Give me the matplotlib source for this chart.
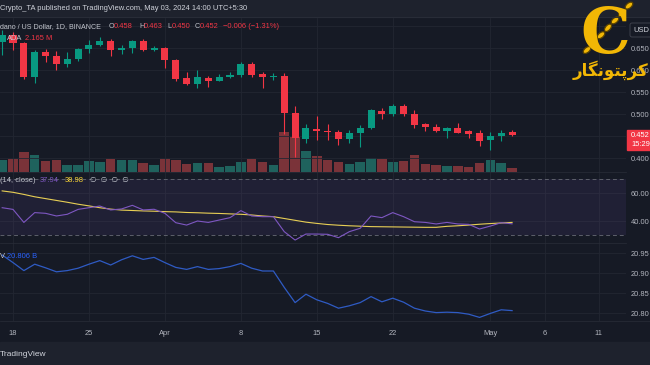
#
# ADA/USD daily chart (TradingView-style screenshot) with RSI and OBV panes
# Values
#
import matplotlib
matplotlib.use('Agg')
import matplotlib.pyplot as plt
import matplotlib.dates as mdates
import matplotlib.patches as patches
import numpy as np
import pandas as pd

plt.rcParams['font.family'] = ['Liberation Sans', 'DejaVu Sans']

# daily candles Mar 17 - May 3, 2024
dates = pd.date_range('2024-03-17', '2024-05-03', freq='D')
opens = [0.664, 0.680, 0.662, 0.585, 0.641, 0.632, 0.614, 0.624, 0.648, 0.657,
         0.666, 0.645, 0.650, 0.666, 0.645, 0.650, 0.623, 0.582, 0.568, 0.582,
         0.575, 0.584, 0.589, 0.614, 0.591, 0.585, 0.586, 0.502, 0.443, 0.466,
         0.461, 0.459, 0.443, 0.457, 0.468, 0.507, 0.500, 0.518, 0.500, 0.477,
         0.470, 0.461, 0.468, 0.461, 0.457, 0.441, 0.450, 0.458]
highs = [0.691, 0.686, 0.664, 0.645, 0.648, 0.643, 0.641, 0.650, 0.668, 0.675,
         0.670, 0.657, 0.668, 0.670, 0.655, 0.652, 0.625, 0.595, 0.600, 0.586,
         0.591, 0.595, 0.618, 0.618, 0.595, 0.593, 0.593, 0.518, 0.477, 0.495,
         0.477, 0.464, 0.464, 0.475, 0.511, 0.514, 0.523, 0.523, 0.509, 0.480,
         0.477, 0.470, 0.480, 0.464, 0.464, 0.459, 0.464, 0.463]
lows = [0.634, 0.645, 0.579, 0.570, 0.618, 0.600, 0.607, 0.620, 0.639, 0.655,
        0.632, 0.636, 0.638, 0.644, 0.644, 0.605, 0.575, 0.566, 0.559, 0.561,
        0.575, 0.582, 0.584, 0.584, 0.559, 0.577, 0.455, 0.402, 0.434, 0.441,
        0.441, 0.430, 0.434, 0.425, 0.466, 0.489, 0.495, 0.495, 0.468, 0.461,
        0.459, 0.445, 0.457, 0.445, 0.427, 0.418, 0.439, 0.450]
closes = [0.680, 0.662, 0.584, 0.641, 0.632, 0.614, 0.625, 0.648, 0.657, 0.666,
          0.645, 0.650, 0.666, 0.645, 0.650, 0.623, 0.580, 0.568, 0.584, 0.575,
          0.584, 0.589, 0.614, 0.589, 0.584, 0.586, 0.502, 0.445, 0.468, 0.461,
          0.458, 0.443, 0.457, 0.468, 0.509, 0.500, 0.518, 0.500, 0.475, 0.470,
          0.461, 0.468, 0.457, 0.455, 0.439, 0.450, 0.457, 0.452]
volume_m = [300, 325, 500, 425, 275, 300, 175, 175, 275, 250, 325, 300, 300, 225,
            175, 325, 300, 200, 225, 225, 125, 150, 250, 325, 250, 175, 1000, 875,
            525, 400, 300, 250, 200, 250, 350, 325, 250, 275, 425, 200, 175, 150,
            150, 125, 225, 300, 225, 100]

rsi = [49.5, 48.3, 39.0, 46.0, 45.5, 43.6, 44.8, 48.3, 49.5, 50.7, 47.9, 48.6,
       51.2, 47.9, 48.4, 45.5, 38.8, 37.1, 40.0, 39.0, 40.7, 42.4, 47.4, 43.6,
       43.1, 43.1, 32.4, 26.4, 30.7, 30.7, 30.5, 28.1, 32.4, 34.8, 43.6, 42.4,
       46.0, 43.1, 39.5, 39.0, 37.9, 39.0, 37.9, 37.6, 34.3, 36.4, 38.8, 38.0]
rsi_ma = [61.5, 60.5, 59.0, 57.3, 56.0, 54.7, 53.4, 52.0, 50.8, 49.5, 48.5, 47.8,
          47.5, 47.2, 47.0, 46.7, 46.5, 46.1, 45.9, 45.6, 45.4, 45.1, 44.8, 44.3,
          43.6, 43.1, 41.8, 40.5, 39.2, 38.3, 37.5, 37.0, 36.6, 36.3, 36.0, 35.9,
          35.8, 35.7, 35.6, 35.5, 35.5, 36.2, 36.6, 37.1, 37.7, 38.2, 38.6, 39.0]
obv_b = [20.945, 20.926, 20.906, 20.922, 20.913, 20.903, 20.906, 20.912, 20.922,
         20.931, 20.920, 20.933, 20.943, 20.934, 20.939, 20.926, 20.914, 20.909,
         20.916, 20.909, 20.911, 20.916, 20.924, 20.912, 20.905, 20.905, 20.864,
         20.826, 20.847, 20.833, 20.824, 20.812, 20.818, 20.826, 20.841, 20.828,
         20.837, 20.827, 20.812, 20.805, 20.801, 20.802, 20.801, 20.797, 20.789,
         20.799, 20.808, 20.806]

tick_dates = ['2024-03-18', '2024-03-25', '2024-04-01', '2024-04-08', '2024-04-15',
              '2024-04-22', '2024-05-01', '2024-05-06', '2024-05-11']
tick_labels = ['18', '25', 'Apr', '8', '15', '22', 'May', '6', '11']

BG = '#161a25'
BAR = '#1e222d'
GRID = '#222632'
TXT = '#b2b5be'
GREEN = '#089981'
RED = '#f23645'
FS = 5.4

W, H = 650, 365


def rect(top, bottom, right=626):
    return [0, 1 - bottom / H, right / W, (bottom - top) / H]


fig = plt.figure(figsize=(6.5, 3.65), dpi=100, facecolor=BG)

axv = fig.add_axes(rect(17, 172))
ax = fig.add_axes(rect(17, 172), sharex=axv)
ar = fig.add_axes(rect(172, 243), sharex=axv)
ao = fig.add_axes(rect(243, 321), sharex=axv)

x = mdates.date2num(dates)
o, h, l, c = map(np.array, (opens, highs, lows, closes))
up = c >= o

# volume under the candles
axv.bar(x, volume_m, width=0.88, color=np.where(up, '#1f625d', '#7a3339'))
axv.set_ylim(0, 155 * 25)
axv.axis('off')

# candles
col = np.where(up, GREEN, RED)
ax.vlines(x, l, h, colors=col, lw=0.8, zorder=3)
ax.bar(x, np.maximum(np.abs(c - o), 0.0012), bottom=np.minimum(o, c),
       width=0.65, color=col, zorder=4)
ax.set_ylim(0.3682, 0.7205)
ax.set_yticks([0.40, 0.45, 0.50, 0.55, 0.60, 0.65, 0.70])
# 0.450 sits under the last-price badge, 0.700 under the USD badge
ax.set_yticklabels(['0.400', '', '0.500', '0.550', '0.600', '0.650', ''])
ax.patch.set_alpha(0)

# RSI pane
ar.axhspan(30, 70, color='#7e57c2', alpha=0.1, lw=0)
for lvl in (70, 30):
    ar.axhline(lvl, color='#5d606b', lw=0.7, ls=(0, (4, 3)))
ar.plot(x, rsi_ma, color='#e8cf55', lw=0.8)
ar.plot(x, rsi, color='#7e57c2', lw=0.8)
ar.set_ylim(24.3, 75)
ar.set_yticks([40, 60])
ar.set_yticklabels(['40.00', '60.00'])

# OBV pane
ao.plot(x, obv_b, color='#2f5bc4', lw=0.9)
ao.set_ylim(20.78, 20.975)
ao.set_yticks([20.80, 20.85, 20.90, 20.95])
ao.set_yticklabels(['20.80', '20.85', '20.90', '20.95'])

ticks = mdates.date2num(pd.to_datetime(tick_dates))
ao.set_xticks(ticks)
ao.set_xticklabels(tick_labels)
ao.set_xlim(x[0] - 0.2, x[0] + 57.5)

for a in (ax, ar, ao):
    a.set_facecolor('none')
    a.yaxis.tick_right()
    a.grid(True, color=GRID, lw=0.6)
    a.set_axisbelow(True)
    a.tick_params(length=0, labelsize=FS, labelcolor=TXT, pad=3.6)
    for s in a.spines.values():
        s.set_visible(False)
ax.tick_params(labelbottom=False)
ar.tick_params(labelbottom=False)
ao.tick_params(axis='x', pad=6.5)

# overlay in pixel coordinates for header, footer, legends and badges
ov = fig.add_axes([0, 0, 1, 1], zorder=10)
ov.set_xlim(0, W)
ov.set_ylim(H, 0)
ov.axis('off')

ov.add_patch(patches.Rectangle((0, 0), W, 17, color=BAR))
ov.add_patch(patches.Rectangle((0, 342), W, 23, color=BAR))
ov.plot([0, W], [17, 17], color='#2a2e39', lw=0.6)
ov.plot([0, 626], [172, 172], color='#2a2e39', lw=0.5)
ov.plot([0, 626], [243, 243], color='#2a2e39', lw=0.5)
ov.plot([0, W], [321, 321], color='#2a2e39', lw=0.5)

ov.text(0, 9, 'Crypto_TA published on TradingView.com, May 03, 2024 14:00 UTC+5:30',
        color='#d1d4dc', fontsize=FS, va='center')
ov.text(0, 354, 'TradingView', color='#d1d4dc', fontsize=FS + 0.6, va='center')

# symbol legend
LT = '#c3c6ce'
ov.text(0, 27, 'dano / US Dollar, 1D, BINANCE', color=LT, fontsize=5.1, va='center')
for lx, letter, val in [(109, 'O', '0.458'), (139, 'H', '0.463'),
                        (167, 'L', '0.450'), (195, 'C', '0.452')]:
    ov.text(lx, 27, letter, color=LT, fontsize=5.1, va='center')
    ov.text(lx + 5, 27, val, color=RED, fontsize=FS, va='center')
ov.text(223, 27, '\u22120.006 (\u22121.31%)', color=RED, fontsize=FS, va='center')
ov.text(7, 38, 'ADA', color=LT, fontsize=FS, va='center')
ov.text(25, 38, '2.165 M', color=RED, fontsize=FS, va='center')

# RSI legend
ov.text(0, 180, '(14, close)', color=LT, fontsize=FS, va='center')
ov.text(40, 180, '37.94', color='#7e57c2', fontsize=FS, va='center')
ov.text(65, 180, '38.98', color='#fdd835', fontsize=FS, va='center')
ov.text(90, 180, '\u2205  \u2205  \u2205  \u2205', color=LT, fontsize=FS, va='center')

# OBV legend
ov.text(0, 257, 'V', color=LT, fontsize=FS, va='center')
ov.text(7, 257, '20.806 B', color='#2962ff', fontsize=FS, va='center')

# USD badge and last price badge
ov.add_patch(patches.FancyBboxPatch((630, 23), 25, 14, boxstyle='round,pad=0,rounding_size=2',
                                    fc=BG, ec='#434651', lw=0.6))
ov.text(633, 30, 'USD', color='#d1d4dc', fontsize=FS, va='center')
ov.add_patch(patches.Rectangle((627, 130), 23, 20, color=RED))
ov.text(631, 135.5, '0.452', color='white', fontsize=FS, va='center')
ov.text(631, 145, '15:29', color='white', fontsize=FS, va='center')

# logo: gold C with a chain and the site name
GOLD = '#f2b705'
ov.text(605, 53, 'C', color=GOLD, fontsize=45, family='DejaVu Serif',
        weight='bold', ha='center', va='baseline')
for k in range(7):
    cx = 587 + k * 7.0
    cy = 50 - k * 7.4
    ov.add_patch(patches.Ellipse((cx, cy), 9, 5, angle=-48 if k % 2 else -40,
                                 fc=GOLD, ec='#5a4300', lw=0.9))
ov.text(611, 70, '\ufead\ufe8e\ufb95\ufee7\ufeee\ufe98\ufb58\ufeae\ufb90',
        color=GOLD, fontsize=12, family='DejaVu Sans', weight='bold',
        ha='center', va='center')

fig.savefig('out.png', dpi=100, facecolor=BG)
